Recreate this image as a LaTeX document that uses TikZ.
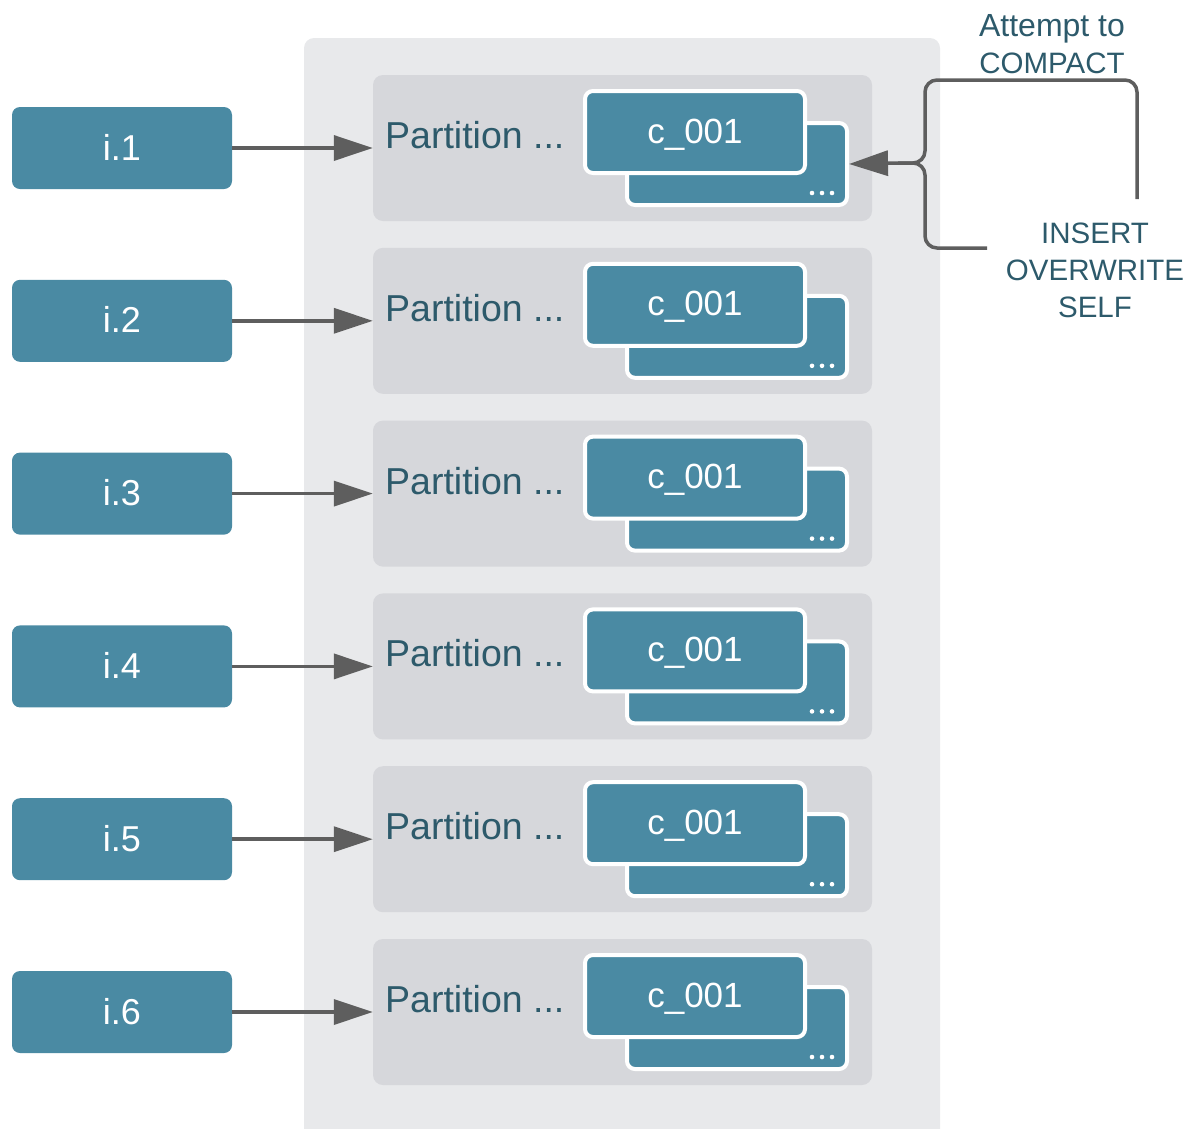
\documentclass[tikz,border=0pt]{standalone}
\usepackage{fontspec}
\setmainfont{Liberation Sans}
\usetikzlibrary{arrows.meta}
\definecolor{tealbox}{HTML}{4A8AA3}
\definecolor{darktxt}{HTML}{2D5A6B}
\definecolor{panelbg}{HTML}{E8E9EB}
\definecolor{partbg}{HTML}{D6D7DB}
\definecolor{arrgray}{HTML}{5E5E5E}
\tikzset{
  inbox/.style={fill=tealbox, rounded corners=8pt, minimum width=220pt, minimum height=82pt, inner sep=0pt},
  partbox/.style={fill=partbg, rounded corners=10pt, minimum width=499pt, minimum height=146pt, inner sep=0pt},
  cbox/.style={fill=tealbox, draw=white, line width=4pt, rounded corners=8pt, minimum width=220pt, minimum height=82pt, inner sep=0pt},
  intext/.style={text=white, anchor=base, inner sep=0pt, font=\fontsize{36}{43}\selectfont},
  parttext/.style={text=darktxt, anchor=base west, inner sep=0pt, font=\fontsize{37.5}{44}\selectfont},
  ctext/.style={text=white, anchor=base, inner sep=0pt, font=\fontsize{35}{42}\selectfont},
  sidetext/.style={text=darktxt, anchor=base, inner sep=0pt, font=\fontsize{29.5}{36}\selectfont},
  sidetextb/.style={text=darktxt, anchor=base, inner sep=0pt, font=\fontsize{32}{38}\selectfont},
  arr/.style={draw=arrgray, line width=3.5pt, -{Triangle[length=39pt,width=25pt]}},
  bracket/.style={draw=arrgray, line width=3.5pt, rounded corners=12pt},
}
\begin{document}
\begin{tikzpicture}[x=1pt,y=-1pt]
\useasboundingbox (0,0) rectangle (1194,1128);
\begin{scope}
\clip (0,0) rectangle (1194,1128);
\fill[panelbg, rounded corners=10pt] (304,38) rectangle (940,1170);
\end{scope}
\foreach \k in {0,...,5} {
  \pgfmathsetmacro\dy{172.8*\k}
  \pgfmathtruncatemacro\num{\k+1}
  \node[partbox] (p\k) at (622.5,{148+\dy}) {};
  \node[inbox] (l\k) at (122,{148+\dy}) {};
  \node[intext] (lt\k) at (122,{160+\dy}) {i.\num};
  \node[parttext] (pt\k) at (385,{148.5+\dy}) {Partition ...};
  \node[cbox] (b\k) at (737,{164+\dy}) {};
  \node[cbox] (f\k) at (695,{132+\dy}) {};
  \node[ctext] (ft\k) at (695,{143+\dy}) {c\_001};
  \foreach \xx in {812,822,832} {
    \fill[white] (\xx,{193+\dy}) circle (2.3pt);
  }
  \draw[arr] (l\k.east) -- (p\k.west);
}
% bracket
\coordinate (tipc) at (898,163);
\coordinate (topend) at (1137,199);
\coordinate (botend) at (987,248);
\draw[bracket] (topend) -- (1137,80) -- (925,80) -- (925,163) -- (tipc);
\draw[bracket] (botend) -- (925,248) -- (925,163) -- (tipc);
\draw[arr] (tipc) -- (b0.east);
% side texts
\node[sidetextb] (t1) at (1052,36) {Attempt to};
\node[sidetext] (t2) at (1052,73) {COMPACT};
\node[sidetext] (t3) at (1095,243) {INSERT};
\node[sidetext] (t4) at (1095,280) {OVERWRITE};
\node[sidetext] (t5) at (1095,317) {SELF};
\end{tikzpicture}
\end{document}
